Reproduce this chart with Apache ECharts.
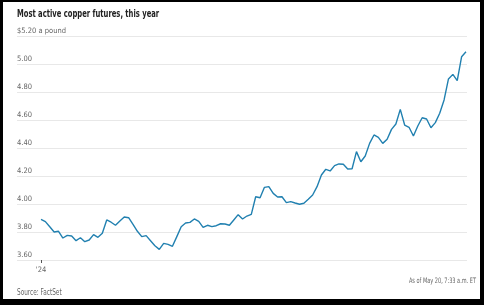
<!DOCTYPE html>
<html>
<head>
<meta charset="utf-8">
<script src="https://cdn.jsdelivr.net/npm/echarts@6/dist/echarts.min.js"></script>
<style>
  html, body { margin: 0; padding: 0; background: #fff; }
  #wrap { position: relative; width: 484px; height: 305px; overflow: hidden; }
  #chart { position: absolute; left: 0; top: 0; width: 484px; height: 305px; }
  #frame { position: absolute; left: 0; top: 0; width: 484px; height: 305px; box-sizing: border-box;
           border-style: solid; border-color: #000; border-width: 2px 4px 6px 3px; pointer-events: none; }
</style>
</head>
<body>
<div id="wrap"><div id="chart"></div><div id="frame"></div></div>
<script>
// Trading days, 2024
const dates = [
  '1/2','1/3','1/4','1/5','1/8','1/9','1/10','1/11','1/12','1/16','1/17','1/18','1/19','1/22','1/23','1/24','1/25','1/26','1/29','1/30','1/31',
  '2/1','2/2','2/5','2/6','2/7','2/8','2/9','2/12','2/13','2/14','2/15','2/16','2/19','2/20','2/21','2/22','2/23','2/26','2/27','2/28','2/29',
  '3/1','3/4','3/5','3/6','3/7','3/8','3/11','3/12','3/13','3/14','3/15','3/18','3/19','3/20','3/21','3/22','3/25','3/26','3/27','3/28',
  '4/1','4/2','4/3','4/4','4/5','4/8','4/9','4/10','4/11','4/12','4/15','4/16','4/17','4/18','4/19','4/22','4/23','4/24','4/25','4/26','4/29','4/30',
  '5/1','5/2','5/3','5/6','5/7','5/8','5/9','5/10','5/13','5/14','5/15','5/16','5/17','5/20'
];
// Copper futures, $ per pound
const prices = [
  3.890, 3.874, 3.837, 3.800, 3.805, 3.757, 3.776, 3.771, 3.738, 3.759, 3.731, 3.743, 3.781, 3.762, 3.791, 3.886, 3.870, 3.848, 3.879, 3.907, 3.902,
  3.855, 3.805, 3.767, 3.774, 3.738, 3.702, 3.676, 3.719, 3.712, 3.698, 3.767, 3.838, 3.864, 3.869, 3.893, 3.876, 3.833, 3.848, 3.838, 3.845, 3.859,
  3.857, 3.848, 3.886, 3.924, 3.893, 3.914, 3.926, 4.052, 4.045, 4.119, 4.124, 4.076, 4.050, 4.052, 4.010, 4.017, 4.007, 3.998,
  4.005, 4.034, 4.064, 4.124, 4.207, 4.248, 4.236, 4.274, 4.286, 4.284, 4.250, 4.252, 4.374, 4.302, 4.343, 4.433, 4.493, 4.476, 4.433, 4.462, 4.533, 4.571,
  4.676, 4.564, 4.548, 4.486, 4.557, 4.616, 4.607, 4.545, 4.581, 4.648, 4.743, 4.893, 4.926, 4.881, 5.052, 5.088
];
const yMin = 3.6, yMax = 5.2, yStep = 0.2;
const title = 'Most active copper futures, this year';
const unitLabel = '$5.20 a pound';
const firstTick = "'24";
const source = 'Source: FactSet';
const asOf = 'As of May 20, 7:33 a.m. ET';

const FONT = "'Liberation Sans Narrow','DejaVu Sans Condensed','Roboto Condensed','Open Sans',Roboto,sans-serif";
const chart = echarts.init(document.getElementById('chart'), null, { renderer: 'canvas' });
chart.setOption({
  animation: false,
  backgroundColor: '#fff',
  grid: [
    { left: 17, right: 17, top: 36, bottom: 45 },
    { left: 41, right: 18, top: 36, bottom: 45 }
  ],
  xAxis: [
    { gridIndex: 0, type: 'category', data: [], show: false },
    {
      gridIndex: 1, type: 'category', data: dates, boundaryGap: false,
      axisLine: { show: false },
      axisTick: { show: true, length: 3, interval: (i) => i === 0, lineStyle: { color: '#555' } },
      axisLabel: {
        interval: (i) => i === 0, formatter: () => firstTick, margin: 6,
        fontFamily: FONT, fontSize: 7.5, color: '#666'
      },
      splitLine: { show: false }
    }
  ],
  yAxis: [
    {
      gridIndex: 0, type: 'value', min: yMin, max: yMax, interval: yStep,
      axisLine: { show: false }, axisTick: { show: false },
      splitLine: { show: true, lineStyle: { color: '#e8e8e8', width: 1 } },
      axisLabel: {
        inside: true, margin: 0, align: 'left', verticalAlign: 'bottom',
        padding: [0, 0, 1, 0],
        fontFamily: FONT, fontSize: 7.5, color: '#666',
        formatter: (v) => Math.abs(v - yMax) < 1e-6 ? unitLabel : v.toFixed(2)
      }
    },
    { gridIndex: 1, type: 'value', min: yMin, max: yMax, show: false, splitLine: { show: false } }
  ],
  series: [{
    type: 'line', xAxisIndex: 1, yAxisIndex: 1,
    data: prices, showSymbol: false, symbol: 'none',
    lineStyle: { color: '#2180b0', width: 1.4 },
    z: 5
  }],
  graphic: [
    { type: 'text', x: 17, y: 9, scaleX: 0.72,
      style: { text: title, font: 'bold 10.5px ' + FONT, fill: '#222', textAlign: 'left', textVerticalAlign: 'top' } },
    { type: 'text', x: 17, y: 289, scaleX: 0.8,
      style: { text: source, font: '8px ' + FONT, fill: '#666', textAlign: 'left', textVerticalAlign: 'top' } },
    { type: 'text', x: 476, y: 277, scaleX: 0.74,
      style: { text: asOf, font: '7.5px ' + FONT, fill: '#666', textAlign: 'right', textVerticalAlign: 'top' } }
  ]
});
</script>
</body>
</html>
